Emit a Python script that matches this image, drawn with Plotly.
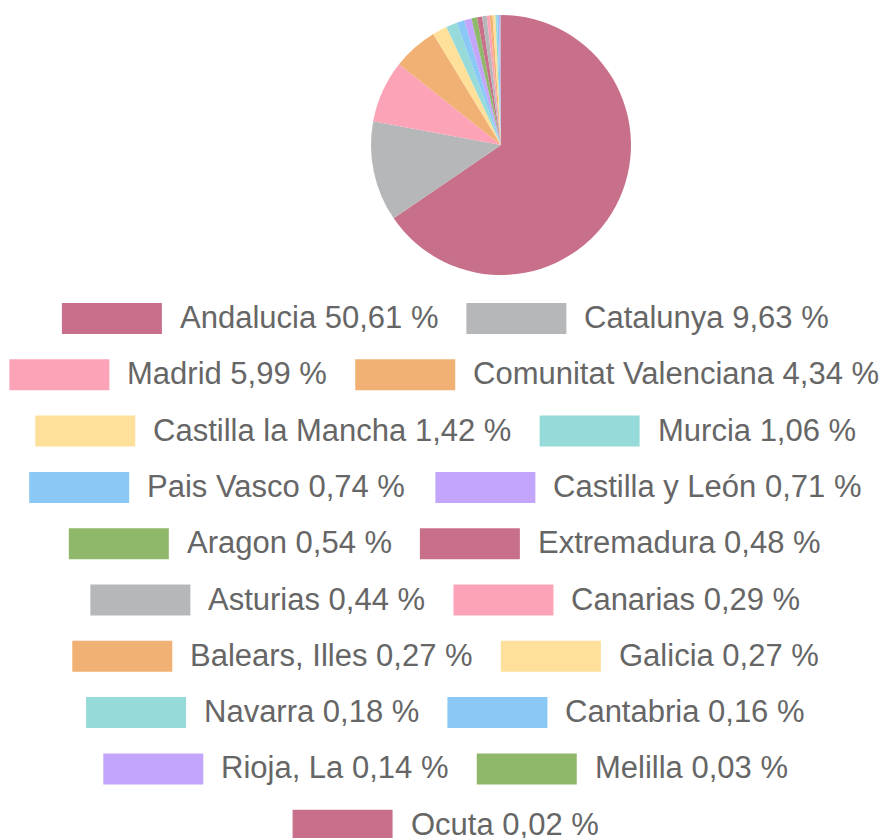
import plotly.graph_objects as go

W, H = 888, 838

regions = ["Andalucia", "Catalunya", "Madrid", "Comunitat Valenciana", "Castilla la Mancha",
           "Murcia", "Pais Vasco", "Castilla y León", "Aragon", "Extremadura", "Asturias",
           "Canarias", "Balears, Illes", "Galicia", "Navarra", "Cantabria", "Rioja, La",
           "Melilla", "Ocuta"]
percents = [50.61, 9.63, 5.99, 4.34, 1.42, 1.06, 0.74, 0.71, 0.54, 0.48, 0.44,
            0.29, 0.27, 0.27, 0.18, 0.16, 0.14, 0.03, 0.02]
palette = ["#C8708A", "#B6B7B9", "#FDA3B7", "#F2B174", "#FFE09B",
           "#96DBD9", "#8AC9F5", "#C3A6FB", "#90B86B"]
colors = [palette[i % len(palette)] for i in range(len(regions))]
labels = [f"{r} {p:.2f} %".replace(".", ",") for r, p in zip(regions, percents)]

fig = go.Figure(go.Pie(
    labels=regions, values=percents, sort=False, direction="clockwise", rotation=0,
    marker=dict(colors=colors, line=dict(width=0)), textinfo="none",
    hoverinfo="label+percent", showlegend=False,
    domain=dict(x=[370 / W, 632 / W], y=[1 - 275 / H, 1 - 15 / H]),
))

# approximate Arial/Liberation Sans advance widths (per 1000 em) for centring legend rows
AW = {' ': 278, ',': 278, '%': 889, 'A': 667, 'B': 667, 'C': 722, 'E': 667, 'G': 778,
      'I': 278, 'L': 556, 'M': 833, 'N': 722, 'O': 778, 'P': 667, 'R': 722, 'V': 667,
      'a': 556, 'b': 556, 'c': 500, 'd': 556, 'e': 556, 'f': 278, 'g': 556, 'h': 556,
      'i': 222, 'j': 222, 'k': 500, 'l': 222, 'm': 833, 'n': 556, 'o': 556, 'ó': 556,
      'p': 556, 'r': 333, 's': 500, 't': 278, 'u': 556, 'v': 500, 'y': 500, 'z': 500}
FS = 31


def tw(s):
    return sum(AW.get(ch, 556) for ch in s) * FS / 1000


RW, RH, GAP1, GAP2 = 100, 31, 17, 29
row0, rowstep, cx = 318.5, 56.3, 445

shapes, annots = [], []
rows = [list(range(i, min(i + 2, len(labels)))) for i in range(0, len(labels), 2)]
for r, idxs in enumerate(rows):
    yc = row0 + r * rowstep
    total = sum(RW + GAP1 + tw(labels[i]) for i in idxs) + GAP2 * (len(idxs) - 1)
    x = cx - total / 2
    for i in idxs:
        shapes.append(dict(type="rect", xref="paper", yref="paper",
                           x0=x / W, x1=(x + RW) / W,
                           y0=1 - (yc + RH / 2) / H, y1=1 - (yc - RH / 2) / H,
                           fillcolor=colors[i], line=dict(width=0)))
        x += RW + GAP1
        annots.append(dict(xref="paper", yref="paper", x=x / W, y=1 - (yc - 1) / H,
                           xanchor="left", yanchor="middle", showarrow=False,
                           text=labels[i], borderpad=0,
                           font=dict(family="Liberation Sans, Arial", size=FS, color="#666666")))
        x += tw(labels[i]) + GAP2

fig.update_layout(width=W, height=H, margin=dict(l=0, r=0, t=0, b=0),
                  paper_bgcolor="white", plot_bgcolor="white",
                  shapes=shapes, annotations=annots)

fig.write_html("out.html", config={"displayModeBar": False},
               post_script="document.body.style.margin='0';")
